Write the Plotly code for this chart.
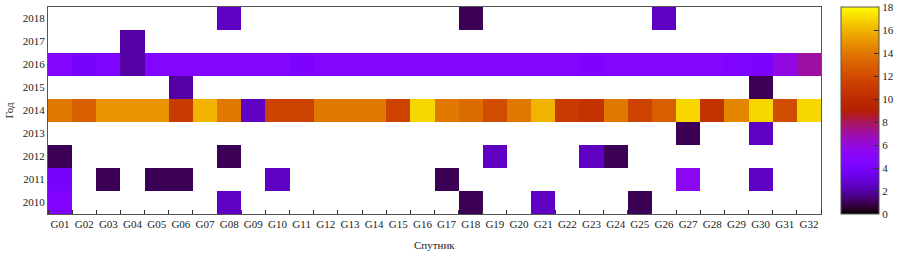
import math
import plotly.graph_objects as go

satellites = ["G%02d" % i for i in range(1, 33)]
years = [2010, 2011, 2012, 2013, 2014, 2015, 2016, 2017, 2018]

N = None
v2010 = [4.6, N, N, N, N, N, N, 2.5, N, N, N, N, N, N, N, N, N, 1, N, N, 2.5, N, N, N, 1, N, N, N, N, N, N, N]
v2011 = [4, N, 1, N, 1, 1, N, N, N, 2.5, N, N, N, N, N, N, 1, N, N, N, N, N, N, N, N, N, 5.5, N, N, 2.5, N, N]
v2012 = [1, N, N, N, N, N, N, 1, N, N, N, N, N, N, N, N, N, N, 2.5, N, N, N, 2.5, 1, N, N, N, N, N, N, N, N]
v2013 = [N, N, N, N, N, N, N, N, N, N, N, N, N, N, N, N, N, N, N, N, N, N, N, N, N, N, 1, N, N, 2.5, N, N]
v2014 = [14, 13, 15, 15, 15, 11, 16, 14, 2.5, 11.5, 11.5, 14, 14, 14, 11.5, 17, 14, 13.5, 12, 14,
         16, 11, 10.5, 14, 11.5, 13, 17, 10.5, 14.5, 17, 12, 17]
v2015 = [N, N, N, N, N, 2, N, N, N, N, N, N, N, N, N, N, N, N, N, N, N, N, N, N, N, N, N, N, N, 1, N, N]
v2016 = [4.8, 4.0, 4.4, 2, 4.8, 4.8, 4.8, 4.8, 4.8, 4.8, 4.3, 4.8, 4.8, 4.8, 4.8, 4.8, 4.8, 4.8, 4.8, 4.8,
         4.8, 4.8, 4.3, 4.8, 4.8, 4.8, 4.8, 4.8, 4.4, 4.3, 5.9, 7]
v2017 = [N, N, N, 2, N, N, N, N, N, N, N, N, N, N, N, N, N, N, N, N, N, N, N, N, N, N, N, N, N, N, N, N]
v2018 = [N, N, N, N, N, N, N, 2.5, N, N, N, N, N, N, N, N, N, 1, N, N, N, N, N, N, N, 2.5, N, N, N, N, N, N]

z = [v2010, v2011, v2012, v2013, v2014, v2015, v2016, v2017, v2018]

# gnuplot default palette (rgbformulae 7,5,15)
cs = []
for i in range(61):
    t = i / 60
    r = math.sqrt(t)
    g = t ** 3
    b = max(0.0, math.sin(2 * math.pi * t))
    cs.append([t, "rgb(%d,%d,%d)" % (round(r * 255), round(g * 255), round(b * 255))])

font = "Liberation Serif, Times New Roman, serif"

fig = go.Figure(go.Heatmap(
    z=z,
    x=list(range(len(satellites))),
    y=years,
    zmin=0, zmax=18,
    colorscale=cs,
    xgap=0, ygap=0,
    colorbar=dict(
        x=1.0259, xanchor="left", xpad=0, ypad=0,
        y=1, yanchor="top", len=1, lenmode="fraction",
        thickness=38, thicknessmode="pixels",
        outlinecolor="#555", outlinewidth=1,
        tickvals=[0, 2, 4, 6, 8, 10, 12, 14, 16, 18],
        tickprefix="\u2002",
        ticks="inside", ticklen=5, tickcolor="#333",
        tickfont=dict(family=font, size=11, color="#222"),
    ),
))

fig.update_layout(
    width=913, height=262,
    margin=dict(l=48, r=92, t=7, b=48, autoexpand=False),
    paper_bgcolor="white", plot_bgcolor="white",
    font=dict(family=font, size=11, color="#222"),
    annotations=[
        dict(text="Спутник", xref="paper", yref="paper", x=0.5, y=-0.15,
             xanchor="center", yanchor="middle", showarrow=False,
             font=dict(family=font, size=11, color="#222")),
        dict(text="Год", xref="paper", yref="paper", x=-0.0517, y=0.5,
             xanchor="center", yanchor="middle", textangle=-90, showarrow=False,
             font=dict(family=font, size=11, color="#222")),
    ],
)
fig.update_xaxes(
    range=[-0.5, len(satellites) - 0.5], automargin=False,
    tickvals=list(range(len(satellites))), ticktext=satellites,
    ticks="", showgrid=False, zeroline=False,
    showline=True, linecolor="#555", linewidth=1, mirror=True,
    minor=dict(tick0=0.5, dtick=1, ticks="inside", ticklen=4, tickcolor="#333", showgrid=False),
    tickfont=dict(family=font, size=11),
)
fig.update_yaxes(
    range=[2009.5, 2018.5], automargin=False,
    tickvals=years, ticktext=[str(y) for y in years],
    ticks="", showgrid=False, zeroline=False,
    showline=True, linecolor="#555", linewidth=1, mirror=True,
    tickfont=dict(family=font, size=11),
)

fig.write_html("out.html", config={"displayModeBar": False},
               post_script="document.body.style.margin='0';")
